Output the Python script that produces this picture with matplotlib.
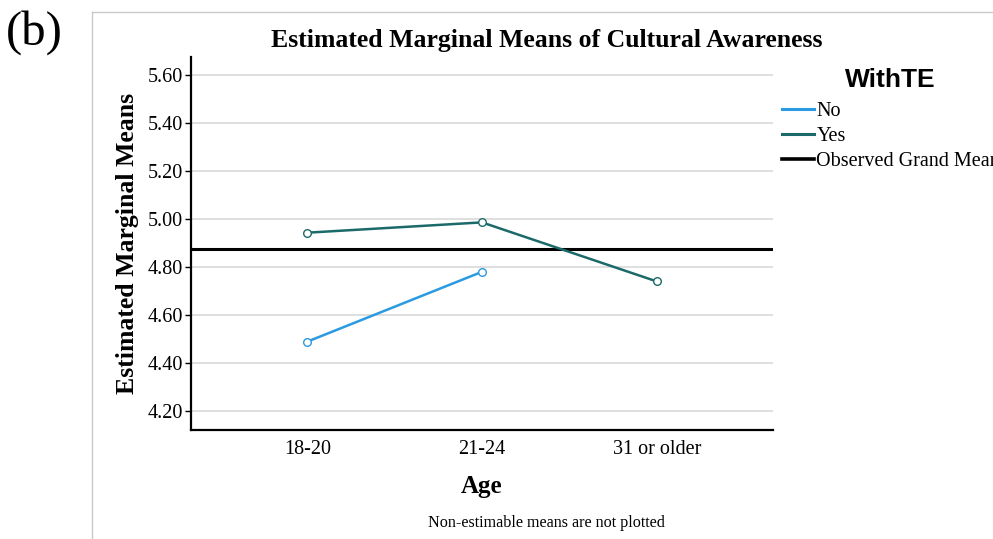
import matplotlib
matplotlib.use("Agg")
import matplotlib.pyplot as plt
from matplotlib.lines import Line2D

# data
ages = ["18-20", "21-24", "31 or older"]
no_means = [4.489, 4.780]          # no estimate for "31 or older"
yes_means = [4.943, 4.986, 4.740]
grand_mean = 4.875
yticks = [4.20, 4.40, 4.60, 4.80, 5.00, 5.20, 5.40, 5.60]

serif = "Liberation Serif"
c_no = "#2b9ae0"
c_yes = "#1b6a69"

fig = plt.figure(figsize=(9.93, 5.39), dpi=100)
ax = fig.add_axes([191 / 993, 1 - 430 / 539, 582 / 993, 373 / 539])

x = list(range(len(ages)))
ax.plot(x[:len(no_means)], no_means, color=c_no, lw=1.8, marker="o", ms=5.5,
        mfc="white", mew=1, zorder=3)
ax.plot(x, yes_means, color=c_yes, lw=1.8, marker="o", ms=5.5,
        mfc="white", mew=1, zorder=3)
ax.axhline(grand_mean, color="black", lw=2.2, zorder=2)

ax.set_xlim(-0.665, 2.665)
ax.set_ylim(4.121, 5.675)
ax.set_xticks(x)
ax.set_xticklabels(ages, fontfamily=serif, fontsize=14.5)
ax.set_yticks(yticks)
ax.set_yticklabels([f"{v:.2f}" for v in yticks], fontfamily=serif, fontsize=14.5)
ax.tick_params(axis="x", length=0, pad=7)
ax.tick_params(axis="y", length=4, width=1, pad=2)
ax.yaxis.grid(True, color="#d9d9d9", lw=1.2)
ax.set_axisbelow(True)
for s in ["top", "right"]:
    ax.spines[s].set_visible(False)
for s in ["left", "bottom"]:
    ax.spines[s].set_linewidth(1.6)

ax.set_xlabel("Age", fontfamily=serif, fontsize=18, fontweight="bold", labelpad=12)
ax.set_ylabel("Estimated Marginal Means", fontfamily=serif, fontsize=18.5,
              fontweight="bold", labelpad=6)

fig.text(547 / 993, 1 - 40 / 539, "Estimated Marginal Means of Cultural Awareness",
         ha="center", va="center", fontfamily=serif, fontsize=18.5, fontweight="bold")
fig.text(546 / 993, 1 - 523 / 539, "Non-estimable means are not plotted",
         ha="center", va="center", fontfamily=serif, fontsize=11.6)
fig.text(6 / 993, 1 - 33 / 539, "(b)", ha="left", va="center",
         fontfamily=serif, fontsize=35)

# outer frame of the original output panel
fig.add_artist(Line2D([92 / 993, 92 / 993], [0, 1 - 12 / 539], color="#c8c8c8", lw=1))
fig.add_artist(Line2D([92 / 993, 1], [1 - 12 / 539, 1 - 12 / 539], color="#c8c8c8", lw=1))

# legend
fig.text(890 / 993, 1 - 80 / 539, "WithTE", ha="center", va="center",
         fontfamily="Liberation Sans", fontsize=19, fontweight="bold")
handles = [Line2D([], [], color=c_no, lw=2.2),
           Line2D([], [], color=c_yes, lw=2.2),
           Line2D([], [], color="black", lw=2.6)]
fig.legend(handles, ["No", "Yes", "Observed Grand Mean"], loc="upper left",
           bbox_to_anchor=(782 / 993, 1 - 102 / 539), frameon=False,
           handlelength=1.6, handletextpad=0.1, labelspacing=0.3,
           borderpad=0, borderaxespad=0, prop={"family": serif, "size": 14.5})

fig.savefig("out.png", dpi=100)
